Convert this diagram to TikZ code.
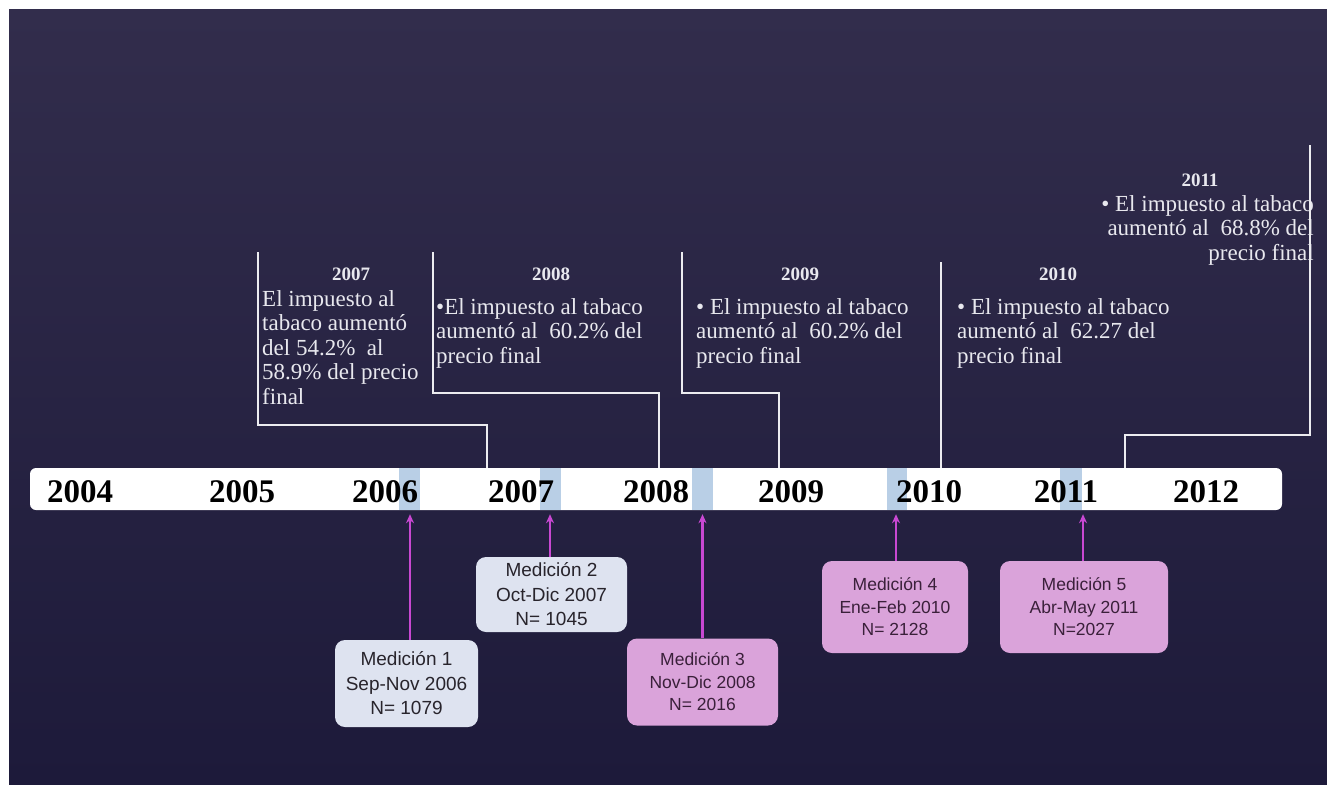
\documentclass[tikz,border=0pt]{standalone}
\usepackage{fontspec}
\setmainfont{Liberation Serif}
\setsansfont{Liberation Sans}
\usetikzlibrary{arrows.meta}
\definecolor{bgtop}{RGB}{50,45,76}
\definecolor{bgbot}{RGB}{29,26,58}
\definecolor{linecol}{RGB}{236,236,240}
\definecolor{txtcol}{RGB}{232,232,238}
\definecolor{bandcol}{RGB}{185,207,230}
\definecolor{lightbox}{RGB}{222,227,240}
\definecolor{pinkbox}{RGB}{218,163,218}
\definecolor{arrcol}{RGB}{200,72,210}
\definecolor{boxtxt}{RGB}{40,36,44}
\definecolor{pinktxt}{RGB}{58,32,58}
\begin{document}
\begin{tikzpicture}[x=1pt,y=-1pt,
  barstyle/.style={fill=white, rounded corners=6pt, inner sep=0pt},
  yearlab/.style={anchor=base, inner sep=0pt, font=\bfseries\fontsize{33}{36}\selectfont, text=black},
  head/.style={anchor=base, inner sep=0pt, font=\bfseries\fontsize{19}{22}\selectfont, text=txtcol},
  body/.style={anchor=north west, inner sep=0pt, align=left, font=\fontsize{23}{24.5}\selectfont, text=txtcol},
  bodyr/.style={anchor=north east, inner sep=0pt, align=right, font=\fontsize{23}{24.5}\selectfont, text=txtcol},
  conn/.style={draw=linecol, line width=2.2pt},
  band/.style={fill=bandcol},
  medbig/.style={rounded corners=10pt, inner sep=0pt, align=center, font=\sffamily\fontsize{19}{24.5}\selectfont},
  medsmall/.style={rounded corners=10pt, inner sep=0pt, align=center, font=\sffamily\fontsize{17.5}{22.5}\selectfont},
  lightm/.style={fill=lightbox, text=boxtxt},
  pinkm/.style={fill=pinkbox, text=pinktxt},
  marrow/.style={draw=arrcol, line width=2.2pt, -{Stealth[length=9pt,width=8pt]}, shorten >=4pt}
]
\useasboundingbox (0,0) rectangle (1327,784);
\fill[white] (0,0) rectangle (1327,784);
\shade[top color=bgtop, bottom color=bgbot] (9,10) rectangle (1327,784);

% timeline bar
\node[barstyle, minimum width=1252pt, minimum height=42pt] (bar) at (656,489) {};
\fill[band] (399,468) rectangle (420,510);
\fill[band] (540,468) rectangle (561,510);
\fill[band] (692,468) rectangle (713,510);
\fill[band] (887,468) rectangle (907,510);
\fill[band] (1060,468) rectangle (1082,510);

\node[yearlab] (y2004) at (80,502) {2004};
\node[yearlab] (y2005) at (242,502) {2005};
\node[yearlab] (y2006) at (385,502) {2006};
\node[yearlab] (y2007) at (521,502) {2007};
\node[yearlab] (y2008) at (656,502) {2008};
\node[yearlab] (y2009) at (791,502) {2009};
\node[yearlab] (y2010) at (929,502) {2010};
\node[yearlab] (y2011) at (1066,502) {2011};
\node[yearlab] (y2012) at (1206,502) {2012};

% text blocks
\node[head] (h2007) at (351,280) {2007};
\node[body] (t2007) at (262,290) {El impuesto al\\tabaco aumentó\\del 54.2\%~ al\\58.9\% del precio\\final};
\node[head] (h2008) at (551,280) {2008};
\node[body] (t2008) at (436,298) {\textbullet El impuesto al tabaco\\aumentó al~ 60.2\% del\\precio final};
\node[head] (h2009) at (800,280) {2009};
\node[body] (t2009) at (696,298) {\textbullet{} El impuesto al tabaco\\aumentó al~ 60.2\% del\\precio final};
\node[head] (h2010) at (1058,280) {2010};
\node[body] (t2010) at (957,298) {\textbullet{} El impuesto al tabaco\\aumentó al~ 62.27 del\\precio final};
\node[head] (h2011) at (1200,186) {2011};
\node[bodyr] (t2011) at (1314,195) {\textbullet{} El impuesto al tabaco\\aumentó al~ 68.8\% del\\precio final};

% bracket connectors
\coordinate (c7a) at (258,252); \coordinate (c7b) at (487,425);
\coordinate (c8a) at (433,252); \coordinate (c8b) at (659,393);
\coordinate (c9a) at (682,252); \coordinate (c9b) at (779,393);
\coordinate (c10a) at (941,262);
\coordinate (c11a) at (1310,145); \coordinate (c11b) at (1125,435);
\draw[conn] (c7a) |- (c7b) -- (c7b |- bar.north);
\draw[conn] (c8a) |- (c8b) -- (c8b |- bar.north);
\draw[conn] (c9a) |- (c9b) -- (c9b |- bar.north);
\draw[conn] (c10a) -- (c10a |- bar.north);
\draw[conn] (c11a) |- (c11b) -- (c11b |- bar.north);

% measurement boxes
\node[medbig, lightm, minimum width=143pt, minimum height=87pt] (m1) at (406.5,683.5) {Medición 1\\Sep-Nov 2006\\N= 1079};
\node[medbig, lightm, minimum width=151pt, minimum height=75pt] (m2) at (551.5,594.5) {Medición 2\\Oct-Dic 2007\\N= 1045};
\node[medsmall, pinkm, minimum width=151pt, minimum height=87pt] (m3) at (702.5,682) {Medición 3\\Nov-Dic 2008\\N= 2016};
\node[medsmall, pinkm, minimum width=146pt, minimum height=92pt] (m4) at (895,607) {Medición 4\\Ene-Feb 2010\\N= 2128};
\node[medsmall, pinkm, minimum width=168pt, minimum height=92pt] (m5) at (1084,607) {Medición 5\\Abr-May 2011\\N=2027};

\draw[marrow] ([xshift=3.5pt]m1.north) -- ([xshift=3.5pt]m1.north |- bar.south);
\draw[marrow] ([xshift=-1.5pt]m2.north) -- ([xshift=-1.5pt]m2.north |- bar.south);
\draw[marrow] (m3.north) -- (m3.north |- bar.south);
\draw[marrow] ([xshift=1pt]m4.north) -- ([xshift=1pt]m4.north |- bar.south);
\draw[marrow] ([xshift=-1pt]m5.north) -- ([xshift=-1pt]m5.north |- bar.south);
\end{tikzpicture}
\end{document}
